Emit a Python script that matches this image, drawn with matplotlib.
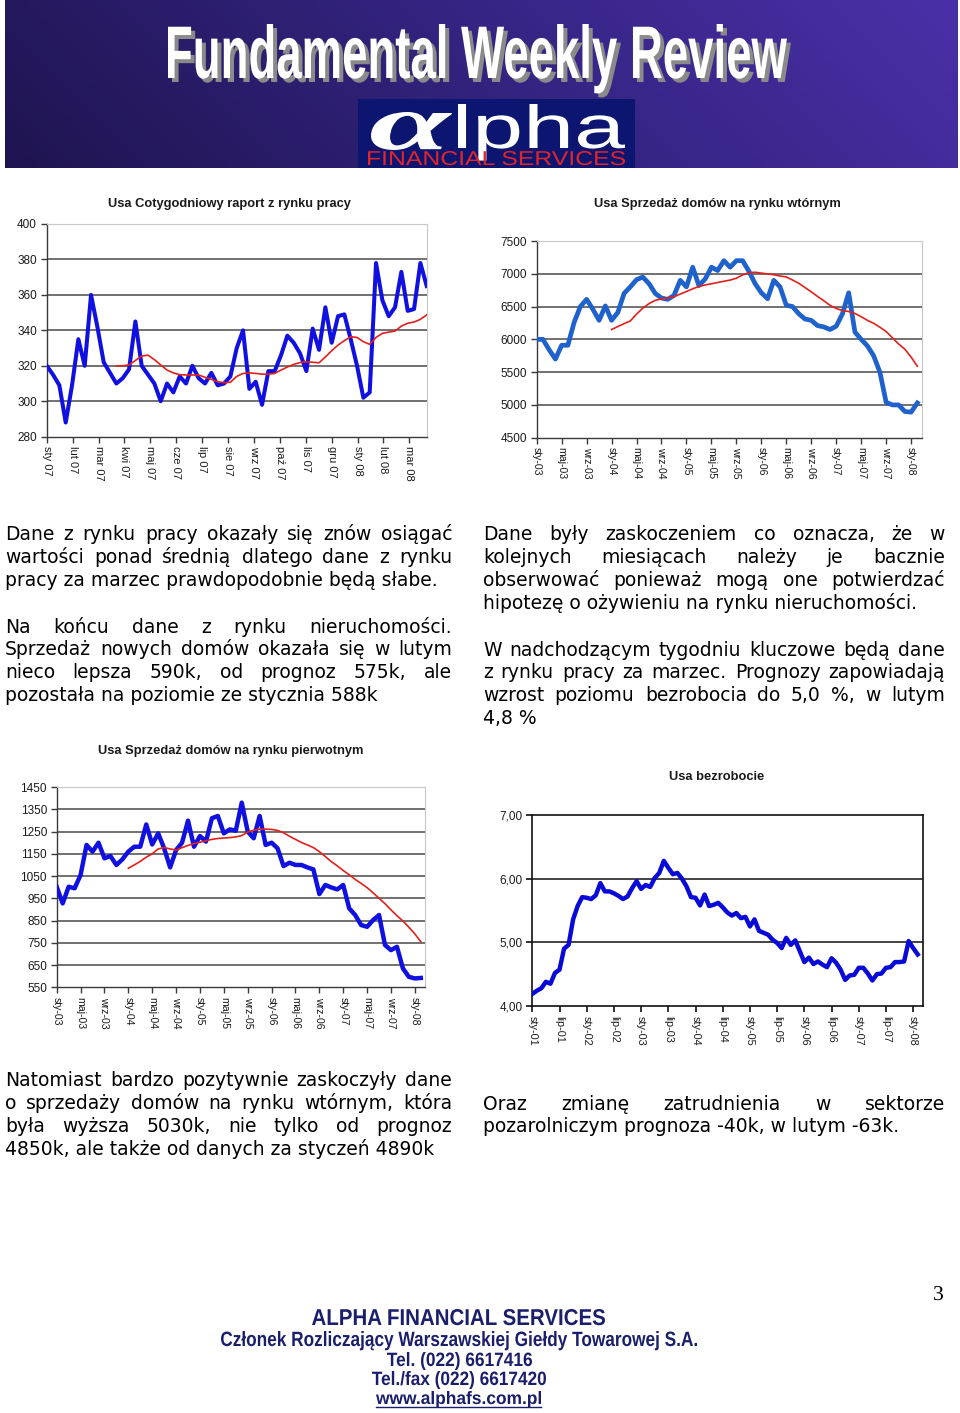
import numpy as np
import matplotlib
matplotlib.use("Agg")
import matplotlib.pyplot as plt
import matplotlib.colors as mcolors
from matplotlib.colors import LinearSegmentedColormap
from matplotlib.patheffects import AbstractPathEffect
from matplotlib.transforms import Affine2D
from matplotlib.textpath import TextPath
from matplotlib.font_manager import FontProperties, fontManager
from matplotlib.patches import Rectangle

W, H, DPI = 960, 1413, 100

# ---------------- DATA ----------------
# Chart 1: weekly jobless claims (k)
claims_labels = ['sty 07', 'lut 07', 'mar 07', 'kwi 07', 'maj 07', 'cze 07', 'lip 07',
                 'sie 07', 'wrz 07', 'paź 07', 'lis 07', 'gru 07', 'sty 08', 'lut 08', 'mar 08']
claims = [320, 315, 309, 288, 309, 335, 320, 360, 342, 322,
          316, 310, 313, 318, 345, 320, 315, 310, 300, 310,
          305, 314, 310, 320, 313, 310, 316, 309, 310, 314,
          330, 340, 307, 311, 298, 317, 317, 326, 337, 333,
          327, 317, 341, 329, 353, 333, 348, 349, 335, 320,
          302, 305, 378, 357, 348, 353, 373, 351, 352, 378, 365]
claims_avg = [np.nan] * 11 + [
    320, 320, 320.5, 323, 325.5, 326, 323.5, 320.5, 317.6, 316,
    315, 314.8, 314.8, 314.8, 313.5, 312.4, 311, 310.5, 310.7, 314,
    315.7, 316, 315.7, 315.3, 315.3, 315.7, 317.6, 319.3, 320.8, 321.8,
    322.3, 322, 321.7, 325, 328.5, 331.7, 334.2, 336.4, 336, 333.6,
    332.1, 336, 338.3, 339, 339.6, 342.4, 344, 344.7, 346.2, 348.7]

# Charts 2 & 3: monthly, Jan 2003 - Feb 2008
month_labels = ['sty-03', 'maj-03', 'wrz-03', 'sty-04', 'maj-04', 'wrz-04', 'sty-05', 'maj-05',
                'wrz-05', 'sty-06', 'maj-06', 'wrz-06', 'sty-07', 'maj-07', 'wrz-07', 'sty-08']
existing = [6000, 6000, 5840, 5700, 5910, 5910, 6260, 6500, 6610, 6460,
            6290, 6510, 6290, 6410, 6700, 6800, 6910, 6950, 6850, 6700,
            6630, 6610, 6670, 6900, 6800, 7100, 6820, 6920, 7100, 7050,
            7200, 7100, 7200, 7200, 7040, 6850, 6710, 6620, 6900, 6800,
            6520, 6500, 6390, 6310, 6290, 6210, 6190, 6150, 6200, 6390,
            6710, 6110, 6000, 5900, 5750, 5500, 5040, 5000, 5000, 4900,
            4890, 5030]
existing_avg = [np.nan] * 12 + [
    6150, 6195, 6240, 6280, 6385, 6475, 6545, 6595, 6617, 6632,
    6650, 6690, 6730, 6770, 6807, 6830, 6847, 6867, 6886, 6904,
    6932, 6983, 7017, 7023, 7010, 6998, 6985, 6966, 6952, 6905,
    6855, 6790, 6725, 6655, 6590, 6520, 6470, 6440, 6425, 6395,
    6345, 6290, 6245, 6185, 6120, 6025, 5930, 5850, 5730, 5590]

new_homes = [1002, 927, 1002, 995, 1055, 1190, 1160, 1200, 1130, 1140,
             1100, 1125, 1160, 1182, 1182, 1282, 1192, 1242, 1175, 1089,
             1167, 1200, 1299, 1182, 1230, 1205, 1310, 1320, 1242, 1260,
             1254, 1380, 1250, 1220, 1320, 1190, 1200, 1175, 1095, 1110,
             1100, 1100, 1089, 1080, 969, 1010, 999, 990, 1010, 905,
             875, 830, 822, 852, 875, 740, 717, 732, 635, 597,
             590, 592]
new_homes_avg = [np.nan] * 12 + [
    1085, 1100, 1116, 1135, 1150, 1172, 1178, 1172, 1167, 1178,
    1188, 1196, 1202, 1209, 1215, 1219, 1221, 1223, 1226, 1232,
    1248, 1256, 1261, 1261, 1260, 1255, 1245, 1229, 1215, 1201,
    1190, 1178, 1160, 1138, 1115, 1096, 1075, 1056, 1035, 1017,
    998, 975, 950, 926, 898, 872, 848, 820, 790, 755]

# Chart 4: unemployment rate, monthly Jan 2001 - Feb 2008
unemp_labels = ['sty-01', 'lip-01', 'sty-02', 'lip-02', 'sty-03', 'lip-03', 'sty-04', 'lip-04',
                'sty-05', 'lip-05', 'sty-06', 'lip-06', 'sty-07', 'lip-07', 'sty-08']
unemployment = [4.19, 4.24, 4.28, 4.38, 4.35, 4.52, 4.57, 4.90, 4.96, 5.36,
                5.57, 5.71, 5.70, 5.68, 5.74, 5.93, 5.80, 5.80, 5.77, 5.73,
                5.68, 5.72, 5.85, 5.96, 5.84, 5.90, 5.87, 6.01, 6.09, 6.28,
                6.17, 6.07, 6.09, 6.00, 5.88, 5.71, 5.70, 5.58, 5.75, 5.57,
                5.59, 5.62, 5.55, 5.47, 5.42, 5.46, 5.38, 5.40, 5.25, 5.36,
                5.18, 5.15, 5.12, 5.04, 4.99, 4.91, 5.07, 4.96, 5.03, 4.86,
                4.69, 4.76, 4.66, 4.70, 4.65, 4.61, 4.75, 4.68, 4.57, 4.41,
                4.48, 4.49, 4.60, 4.60, 4.51, 4.40, 4.50, 4.51, 4.60, 4.61,
                4.69, 4.69, 4.70, 5.02, 4.91, 4.81]
unemp_ticklabels = ['4,00', '5,00', '6,00', '7,00']

# ---------------- TEXTS ----------------
header_title = 'Fundamental Weekly Review'
chart_titles = ['Usa Cotygodniowy raport z rynku pracy',
                'Usa Sprzedaż domów na rynku wtórnym',
                'Usa Sprzedaż domów na rynku pierwotnym',
                'Usa bezrobocie']
para_left = [
    ['Dane z rynku pracy okazały się znów osiągać',
     'wartości ponad średnią dlatego dane z rynku',
     'pracy za marzec prawdopodobnie będą słabe.'],
    ['Na końcu dane z rynku nieruchomości.',
     'Sprzedaż nowych domów okazała się w lutym',
     'nieco lepsza 590k, od prognoz 575k, ale',
     'pozostała na poziomie ze stycznia 588k'],
]
para_right = [
    ['Dane były zaskoczeniem co oznacza, że w',
     'kolejnych miesiącach należy je bacznie',
     'obserwować ponieważ mogą one potwierdzać',
     'hipotezę o ożywieniu na rynku nieruchomości.'],
    ['W nadchodzącym tygodniu kluczowe będą dane',
     'z rynku pracy za marzec. Prognozy zapowiadają',
     'wzrost poziomu bezrobocia do 5,0 %, w lutym',
     '4,8 %'],
]
para_low_left = [['Natomiast bardzo pozytywnie zaskoczyły dane',
                  'o sprzedaży domów na rynku wtórnym, która',
                  'była wyższa 5030k, nie tylko od prognoz',
                  '4850k, ale także od danych za styczeń 4890k']]
para_low_right = [['Oraz zmianę zatrudnienia w sektorze',
                   'pozarolniczym prognoza -40k, w lutym -63k.']]
footer_lines = ['ALPHA FINANCIAL SERVICES',
                'Członek Rozliczający Warszawskiej Giełdy Towarowej S.A.',
                'Tel. (022) 6617416',
                'Tel./fax (022) 6617420',
                'www.alphafs.com.pl']

# ---------------- FIGURE ----------------
fig = plt.figure(figsize=(W / DPI, H / DPI), dpi=DPI, facecolor='white')
page = fig.add_axes([0, 0, 1, 1], zorder=0)
page.axis('off')
renderer = fig.canvas.get_renderer()

names = {f.name for f in fontManager.ttflist}
NARROW = 'Liberation Sans Narrow' if 'Liberation Sans Narrow' in names else 'Liberation Sans'


class Squeeze(AbstractPathEffect):
    """Scale glyph outlines around an anchor (display px), optional offset/colour."""
    def __init__(self, sx, sy, cx, cy, dx=0.0, dy=0.0, color=None):
        super().__init__()
        self.sx, self.sy, self.cx, self.cy = sx, sy, cx, cy
        self.dx, self.dy, self.color = dx, dy, color

    def draw_path(self, renderer, gc, tpath, affine, rgbFace=None):
        t = affine + Affine2D().translate(-self.cx, -self.cy).scale(self.sx, self.sy) \
            .translate(self.cx + self.dx, self.cy + self.dy)
        face = rgbFace if self.color is None else mcolors.to_rgba(self.color)
        renderer.draw_path(gc, tpath, t, face)


def fit_text(s, x0, x1, top, base=None, bottom=None, family='Liberation Sans',
             weight='normal', style='normal', color='k', shadow=None, px=None):
    fp = FontProperties(family=family, weight=weight, style=style)
    e0 = TextPath((0, 0), s, size=40, prop=fp).get_extents()
    if px is None:
        px_w = 40.0 * (x1 - x0) / e0.width
        if bottom is not None:
            px_h = 40.0 * (bottom - top) / (e0.y1 - e0.y0)
        else:
            px_h = 40.0 * (base - top) / e0.y1
        px = min(px_w, px_h)
    ext = TextPath((0, 0), s, size=px, prop=fp).get_extents()
    sx = (x1 - x0) / ext.width
    if bottom is not None:
        sy = (bottom - top) / (ext.y1 - ext.y0)
        base = top + sy * ext.y1
    else:
        sy = (base - top) / ext.y1
    X = x0 - sx * ext.x0
    cx, cy = X, H - base
    effects = []
    if shadow is not None:
        effects.append(Squeeze(sx, sy, cx, cy, shadow[0], -shadow[1], shadow[2]))
    effects.append(Squeeze(sx, sy, cx, cy))
    t = page.text(X, base, s, family=family, weight=weight, style=style,
                  fontsize=px * 72.0 / DPI, color=color, ha='left', va='baseline')
    t.set_path_effects(effects)
    return t


# --- header banner ---
grad_x = np.linspace(0, 1, 300)
grad = np.tile(grad_x, (40, 1)) * 0.85 + np.linspace(0.15, 0, 40)[:, None]
cmap = LinearSegmentedColormap.from_list('banner', ['#1f1450', '#33237e', '#4a30a8'])
page.imshow(grad, extent=[5, 958, 168, 0], aspect='auto', cmap=cmap, vmin=0, vmax=1,
            interpolation='bilinear', zorder=0)
page.set_xlim(0, W)
page.set_ylim(H, 0)
fit_text(header_title, 168, 787, 24, base=78, family=NARROW, weight='bold',
         color='white', shadow=(4, 4, '#8a8a8a'))
page.add_patch(Rectangle((358, 99), 277, 69, facecolor='#0c1570', edgecolor='none', zorder=1))
fit_text('α', 371, 452, 112, bottom=150, family='Liberation Serif', style='italic',
         weight='bold', color='white', px=20)
fit_text('lpha', 458, 625, 104, base=148, family='Liberation Sans', color='white', px=28)
fit_text('FINANCIAL SERVICES', 368, 625, 151, base=165, family='Liberation Sans',
         color='#e0262b', px=11)

# --- body text (justified) ---
BODY_FS = 13.5


def put_paragraphs(paras, x0, x1, first_center, step, para_gap):
    y = first_center
    for lines in paras:
        for k, line in enumerate(lines):
            base = y + 6.5
            words = line.split(' ')
            last = (k == len(lines) - 1)
            if not last and len(words) > 1:
                texts = [page.text(0, base, w_, family='DejaVu Sans', fontsize=BODY_FS,
                                   ha='left', va='baseline', color='black') for w_ in words]
                widths = [t.get_window_extent(renderer).width for t in texts]
                gap = (x1 - x0 - sum(widths)) / (len(words) - 1)
                xx = x0
                for t, wd in zip(texts, widths):
                    t.set_x(xx)
                    xx += wd + gap
            else:
                page.text(x0, base, line, family='DejaVu Sans', fontsize=BODY_FS,
                          ha='left', va='baseline', color='black')
            y += step
        y += para_gap


put_paragraphs(para_left, 5, 452, 534, 22.6, 24.5)
put_paragraphs(para_right, 483, 945, 534, 22.8, 24.0)
put_paragraphs(para_low_left, 5, 452, 1080, 22.7, 0)
put_paragraphs(para_low_right, 483, 945, 1103, 23.0, 0)

# --- footer ---
NAVY = '#1b1e6b'
fit_text(footer_lines[0], 312, 605, 1309, base=1325, weight='bold', color=NAVY, px=15)
fit_text(footer_lines[1], 221, 697, 1331, base=1346, weight='bold', color=NAVY, px=13)
fit_text(footer_lines[2], 387, 532, 1352, base=1366, weight='bold', color=NAVY, px=13)
fit_text(footer_lines[3], 372, 546, 1371, base=1385, weight='bold', color=NAVY, px=13)
fit_text(footer_lines[4], 376, 541, 1391, base=1404, weight='bold', color=NAVY, px=13)
page.plot([376, 541], [1407, 1407], color=NAVY, lw=1.0)
fit_text('3', 934, 943, 1286, base=1300, family='Liberation Serif', color='black')


# ---------------- CHARTS ----------------
def px_rect(x0, y0, x1, y1):
    return [x0 / W, 1 - y1 / H, (x1 - x0) / W, (y1 - y0) / H]


def make_axes(box, xlim, xticks, xlabels, ylim, yticks, ylabels, grid_color,
              frame_color, border_color, xfs=8.0, yfs=8.5, frame_lw=1.0):
    ax = fig.add_axes(px_rect(*box), zorder=2)
    ax.set_facecolor('white')
    ax.set_xlim(*xlim)
    ax.set_ylim(*ylim)
    for yv in yticks[1:-1]:
        ax.axhline(yv, color=grid_color, lw=1.1, zorder=1)
    ax.set_yticks(yticks)
    ax.set_yticklabels(ylabels, fontsize=yfs, family='Liberation Sans', color='#1a1a1a')
    ax.set_xticks(xticks)
    ax.set_xticklabels(xlabels, rotation=-90, fontsize=xfs, family='Liberation Sans',
                       color='#1a1a1a', ha='center', va='top')
    ax.tick_params(axis='both', direction='out', length=4, width=frame_lw, color=frame_color)
    ax.tick_params(axis='x', pad=3)
    ax.tick_params(axis='y', pad=3)
    ax.spines['left'].set_color(frame_color)
    ax.spines['bottom'].set_color(frame_color)
    ax.spines['left'].set_linewidth(frame_lw)
    ax.spines['bottom'].set_linewidth(frame_lw)
    ax.spines['top'].set_color(border_color)
    ax.spines['right'].set_color(border_color)
    return ax


RED = '#e3201c'

# Chart 1
ax1 = make_axes((46.7, 224, 426.7, 436.7), (0, len(claims) - 1),
                np.arange(len(claims_labels)) * 4.09, claims_labels,
                (280, 400), np.arange(280, 401, 20), [str(v) for v in range(280, 401, 20)],
                '#4a4a4a', '#3a3a3a', '#c8c8c8')
xw = np.arange(len(claims))
ax1.plot(xw, claims, color='#1010e0', lw=2.9, solid_joinstyle='round', zorder=3)
ax1.plot(xw, claims_avg, color=RED, lw=1.2, zorder=4)

# Chart 2
xm = np.arange(len(existing))
ax2 = make_axes((536.7, 241, 921.7, 437.7), (0, 61.7), np.arange(0, 61, 4), month_labels,
                (4500, 7500), np.arange(4500, 7501, 500), [str(v) for v in range(4500, 7501, 500)],
                '#4a4a4a', '#3a3a3a', '#c8c8c8', xfs=7.6)
ax2.plot(xm, existing, color='#1f62cc', lw=3.4, solid_joinstyle='round', zorder=3)
ax2.plot(xm, existing_avg, color=RED, lw=1.2, zorder=4)

# Chart 3
ax3 = make_axes((56.7, 787.1, 425, 987.3), (0, 61.7), np.arange(0, 61, 4), month_labels,
                (550, 1450), np.arange(550, 1451, 100), [str(v) for v in range(550, 1451, 100)],
                '#4a4a4a', '#3a3a3a', '#c8c8c8', xfs=7.6)
ax3.plot(xm, new_homes, color='#1010e0', lw=3.2, solid_joinstyle='round', zorder=3)
ax3.plot(xm, new_homes_avg, color=RED, lw=1.2, zorder=4)

# Chart 4
xu = np.arange(len(unemployment))
ax4 = make_axes((532.3, 815, 922.7, 1006), (0, 86.1), np.arange(0, 85, 6), unemp_labels,
                (4, 7), [4, 5, 6, 7], unemp_ticklabels,
                '#111111', '#111111', '#111111', xfs=7.8, frame_lw=1.2)
for sp in ax4.spines.values():
    sp.set_linewidth(1.2)
ax4.plot(xu, unemployment, color='#0a0ad8', lw=3.2, solid_joinstyle='round', zorder=3)

# chart titles
for title, (cx, by) in zip(chart_titles, [(229, 206.7), (717, 207), (231, 754), (717, 780)]):
    page.text(cx, by, title, family='Liberation Sans', weight='bold', fontsize=9.3,
              ha='center', va='baseline', color='#1a1a1a')

fig.savefig('out.png', dpi=DPI, facecolor='white')
